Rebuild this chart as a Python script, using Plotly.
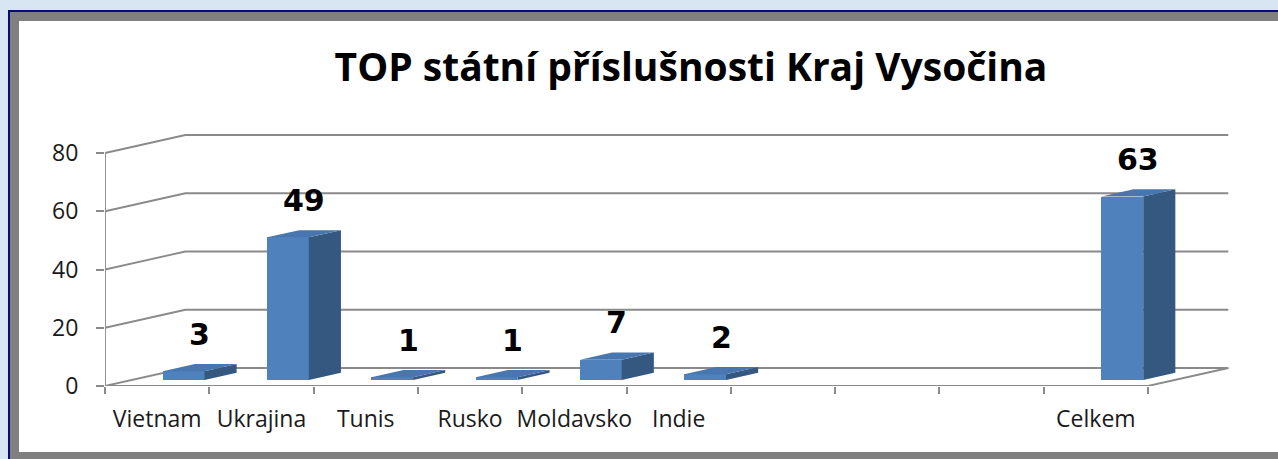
import plotly.graph_objects as go

# ---------------- data ----------------
categories = ["Vietnam", "Ukrajina", "Tunis", "Rusko", "Moldavsko", "Indie", "", "", "", "Celkem"]
values = [3, 49, 1, 1, 7, 2, None, None, None, 63]
y_ticks = [0, 20, 40, 60, 80]
title_text = "TOP státní příslušnosti Kraj Vysočina"

# ---------------- geometry (pseudo 3D) ----------------
W, H = 1278, 459
PL, PR, PT, PB = 105, 1240, 125, 386        # plot area in px
KX = 104.3                                   # px per category
KY = 2.9125                                  # px per value unit
XMAX = (PR - PL) / KX
YMAX = (PB - PT) / KY
DX = 0.77                                    # depth offset (x units)
DY = 18 / KY                                 # depth offset (y units)
T0, T1 = 0.33, 0.73                          # bar depth span (fraction of depth)
BW = 0.40                                    # bar width (category units)
n = len(categories)

FRONT = "#4F81BD"
TOP = "#4876AE"
SIDE = "#34587F"
GRID = "#8A8A8A"

fig = go.Figure()

# back wall / left wall gridlines (behind the bars)
gx, gy = [], []
for v in y_ticks:
    gx += [0, DX, n + DX, None]
    gy += [v, v + DY, v + DY, None]
fig.add_trace(go.Scatter(x=gx, y=gy, mode="lines", line=dict(color=GRID, width=1.8),
                         hoverinfo="skip", showlegend=False, cliponaxis=False, zorder=-2))

# floor edges + vertical axis line
fig.add_trace(go.Scatter(x=[0, n, n + DX, None, 0, 0],
                         y=[0, 0, DY, None, 0, y_ticks[-1]],
                         mode="lines", line=dict(color=GRID, width=1.8),
                         hoverinfo="skip", showlegend=False, cliponaxis=False, zorder=-2))

# bar front faces
xs, ys, cats = [], [], []
for i, (c, v) in enumerate(zip(categories, values)):
    if v is None:
        continue
    xs.append(i + 0.5 + T0 * DX)
    ys.append(v)
    cats.append(c)
fig.add_trace(go.Bar(x=xs, y=ys, base=T0 * DY, width=BW, marker=dict(color=FRONT, line=dict(width=0)),
                     hovertext=cats, hoverinfo="text+y", showlegend=False))

# side and top faces
dd = (T1 - T0) * DX
dh = (T1 - T0) * DY
sx, sy, tx, ty = [], [], [], []
for i, v in enumerate(values):
    if v is None:
        continue
    xl = i + 0.5 + T0 * DX - BW / 2
    xr = xl + BW
    b = T0 * DY
    sx += [xr, xr + dd, xr + dd, xr, xr, None]
    sy += [b, b + dh, b + dh + v, b + v, b, None]
    tx += [xl, xr, xr + dd, xl + dd, xl, None]
    ty += [b + v, b + v, b + v + dh, b + v + dh, b + v, None]
fig.add_trace(go.Scatter(x=sx, y=sy, mode="lines", fill="toself", fillcolor=SIDE,
                         line=dict(width=0, color=SIDE), hoverinfo="skip", showlegend=False))
fig.add_trace(go.Scatter(x=tx, y=ty, mode="lines", fill="toself", fillcolor=TOP,
                         line=dict(width=0, color=TOP), hoverinfo="skip", showlegend=False))

# data labels
for i, v in enumerate(values):
    if v is None:
        continue
    xl = i + 0.5 + T0 * DX - BW / 2
    cx = xl + (BW + dd) / 2
    fig.add_annotation(x=cx, y=T1 * DY + v, text=str(v), showarrow=False,
                       yanchor="bottom", xanchor="center", yshift=10,
                       font=dict(family="DejaVu Sans", size=30, color="#000000", weight="bold"))

# frame decoration (paper coords)
def px_x(p):
    return (p - PL) / (PR - PL)

def px_y(p):
    return (PB - p) / (PB - PT)

fig.add_shape(type="rect", xref="paper", yref="paper", layer="below",
              x0=px_x(8), x1=px_x(1300), y0=px_y(10), y1=px_y(480),
              fillcolor="#0A0A78", line=dict(width=0))
fig.add_shape(type="rect", xref="paper", yref="paper", layer="below",
              x0=px_x(10), x1=px_x(1300), y0=px_y(12), y1=px_y(480),
              fillcolor="#808080", line=dict(width=0))
fig.add_shape(type="rect", xref="paper", yref="paper", layer="below",
              x0=px_x(19), x1=px_x(1300), y0=px_y(21), y1=px_y(452),
              fillcolor="#FFFFFF", line=dict(width=0))

fig.update_layout(
    width=W, height=H, autosize=False,
    margin=dict(l=PL, r=W - PR, t=PT, b=H - PB, pad=0),
    paper_bgcolor="#D8E5F3", plot_bgcolor="rgba(0,0,0,0)",
    title=dict(text="<b>" + title_text + "</b>", x=691 / W, xanchor="center",
               y=1 - 67 / H, yanchor="middle", yref="container",
               font=dict(family="Open Sans", size=39, color="#000000")),
    xaxis=dict(range=[0, XMAX], tickmode="array", tickvals=[i + 0.5 for i in range(n)],
               ticktext=categories, ticks="", showgrid=False, zeroline=False, showline=False,
               tickfont=dict(family="Open Sans", size=23, color="#1A1A1A"),
               ticklabelstandoff=17,
               minor=dict(tickmode="array", tickvals=list(range(n + 1)), ticks="outside",
                          ticklen=7, tickwidth=1.8, tickcolor=GRID, showgrid=False)),
    yaxis=dict(range=[0, YMAX], tickmode="array", tickvals=y_ticks, ticks="outside",
               ticklen=8, tickwidth=1.8, tickcolor=GRID, showgrid=False, zeroline=False,
               showline=False, tickfont=dict(family="Open Sans", size=23, color="#1A1A1A"),
               ticklabelstandoff=13),
    bargap=0, showlegend=False,
)

fig.write_html("out.html", config={"displayModeBar": False},
               post_script="document.body.style.margin='0';document.body.style.overflow='hidden';")
